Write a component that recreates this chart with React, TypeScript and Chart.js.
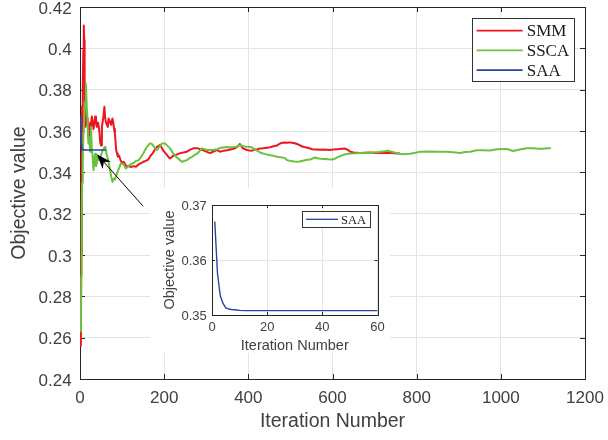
import React, { useEffect, useRef } from "react";
import { Chart, registerables } from "chart.js";

Chart.register(...registerables);

// ---------- data ----------
const smmIter = [2, 3, 4, 5, 6, 7, 8, 9, 10, 11, 12, 13, 15, 18, 20, 22, 24, 26, 28, 30, 32, 34, 36, 38, 40, 43, 46, 48, 50, 52, 55, 58, 60, 62, 66, 68, 70, 74, 77, 79, 81, 83, 86, 88, 90, 93, 96, 100, 103, 105, 108, 113, 117, 121, 127, 133, 139, 145, 150, 156, 162, 167, 173, 178, 183, 190, 194, 197, 202, 207, 211, 214, 220, 226, 232, 238, 246, 254, 262, 269, 280, 286, 292, 300, 309, 318, 326, 333, 340, 346, 352, 360, 368, 375, 380, 384, 387, 397, 403, 409, 415, 421, 428, 435, 444, 452, 460, 468, 474, 480, 486, 492, 498, 504, 510, 516, 523, 530, 538, 547, 552, 558, 565, 570, 578, 586, 594, 602, 611, 620, 630, 637, 642, 650, 665, 680, 689, 700, 713, 725, 740, 753, 758];
const smmValue = [0.256, 0.3, 0.345, 0.372, 0.352, 0.38, 0.4, 0.411, 0.404, 0.385, 0.37, 0.362, 0.368, 0.366, 0.357, 0.355, 0.364, 0.362, 0.367, 0.365, 0.361, 0.363, 0.367, 0.366, 0.362, 0.364, 0.36, 0.3545, 0.353, 0.362, 0.366, 0.3717, 0.366, 0.364, 0.362, 0.366, 0.365, 0.363, 0.366, 0.364, 0.361, 0.3588, 0.3508, 0.349, 0.3475, 0.348, 0.3462, 0.3443, 0.345, 0.3448, 0.3435, 0.3427, 0.3432, 0.3425, 0.343, 0.3427, 0.3438, 0.3445, 0.3451, 0.3455, 0.3462, 0.3478, 0.3493, 0.351, 0.3523, 0.3532, 0.352, 0.3508, 0.3495, 0.3483, 0.3472, 0.3467, 0.3478, 0.3483, 0.3488, 0.3493, 0.3496, 0.35, 0.351, 0.3516, 0.3516, 0.3512, 0.3508, 0.35, 0.3493, 0.3502, 0.3508, 0.35, 0.3504, 0.3506, 0.3508, 0.3512, 0.3516, 0.3525, 0.3537, 0.3525, 0.3516, 0.3508, 0.3506, 0.3505, 0.351, 0.3512, 0.3515, 0.3516, 0.3519, 0.3521, 0.3526, 0.353, 0.3538, 0.3543, 0.3544, 0.3543, 0.3545, 0.3543, 0.3541, 0.3537, 0.353, 0.3524, 0.352, 0.3515, 0.3512, 0.3511, 0.351, 0.3509, 0.351, 0.3509, 0.3508, 0.351, 0.3512, 0.3514, 0.3515, 0.3508, 0.35, 0.3496, 0.3494, 0.3495, 0.3496, 0.3494, 0.3494, 0.3495, 0.3493, 0.3491, 0.3492];

const sscaIter = [2, 3, 4, 5, 6, 7, 8, 10, 12, 14, 16, 18, 20, 22, 24, 26, 28, 30, 32, 34, 36, 38, 40, 43, 46, 48, 51, 54, 58, 60, 63, 66, 70, 74, 77, 80, 83, 87, 91, 97, 103, 109, 115, 121, 127, 133, 139, 145, 150, 155, 159, 166, 170, 173, 178, 183, 189, 195, 202, 208, 214, 221, 227, 233, 242, 248, 254, 260, 266, 273, 280, 285, 290, 296, 302, 316, 326, 333, 340, 350, 356, 364, 372, 380, 386, 392, 400, 409, 415, 421, 428, 435, 443, 452, 460, 468, 476, 486, 492, 498, 504, 510, 516, 522, 530, 540, 547, 552, 558, 565, 572, 580, 590, 597, 605, 611, 620, 630, 642, 655, 665, 680, 695, 710, 725, 732, 740, 753, 765, 784, 800, 808, 825, 850, 872, 886, 903, 915, 927, 943, 958, 974, 991, 1005, 1015, 1029, 1045, 1062, 1077, 1090, 1100, 1110, 1117];
const sscaValue = [0.263, 0.29, 0.318, 0.335, 0.35, 0.343, 0.358, 0.365, 0.374, 0.383, 0.372, 0.365, 0.354, 0.357, 0.35, 0.362, 0.352, 0.3475, 0.341, 0.346, 0.349, 0.343, 0.3443, 0.348, 0.346, 0.346, 0.349, 0.3508, 0.352, 0.3524, 0.349, 0.3467, 0.3427, 0.338, 0.3354, 0.337, 0.3365, 0.339, 0.3411, 0.3443, 0.344, 0.3419, 0.3428, 0.344, 0.3445, 0.3455, 0.3458, 0.3475, 0.349, 0.351, 0.3523, 0.354, 0.3538, 0.3532, 0.3518, 0.3508, 0.3525, 0.354, 0.354, 0.3528, 0.3516, 0.3493, 0.3478, 0.3467, 0.3451, 0.3455, 0.3459, 0.3468, 0.3475, 0.3485, 0.3493, 0.3505, 0.3516, 0.3512, 0.3508, 0.3508, 0.3512, 0.3518, 0.352, 0.3523, 0.352, 0.3522, 0.3524, 0.3532, 0.3528, 0.3525, 0.3524, 0.352, 0.3511, 0.3505, 0.3496, 0.3491, 0.3487, 0.3483, 0.348, 0.3475, 0.3473, 0.347, 0.3459, 0.3456, 0.3454, 0.3452, 0.3451, 0.3452, 0.3456, 0.3461, 0.3462, 0.3466, 0.3472, 0.3468, 0.3466, 0.3465, 0.3463, 0.3462, 0.3465, 0.3472, 0.348, 0.3487, 0.3491, 0.3492, 0.3494, 0.3495, 0.3496, 0.3498, 0.3502, 0.3504, 0.35, 0.3492, 0.3488, 0.349, 0.3496, 0.35, 0.3501, 0.35, 0.35, 0.3497, 0.3494, 0.3498, 0.35, 0.3507, 0.3507, 0.3506, 0.3512, 0.3513, 0.3513, 0.3503, 0.351, 0.3516, 0.3516, 0.3514, 0.3514, 0.3516, 0.3516];

const saaIter = [1, 2, 3, 4, 5, 6, 7, 8, 9, 10, 12, 15, 20, 25, 30, 35, 40, 45, 50, 55, 60];
const saaValue = [0.367, 0.3575, 0.3535, 0.3521, 0.3513, 0.3511, 0.351, 0.35095, 0.3509, 0.35085, 0.3508, 0.3508, 0.3508, 0.3508, 0.3508, 0.3508, 0.3508, 0.3508, 0.3508, 0.3508, 0.3508];

const seriesNames = ["SMM", "SSCA", "SAA"];
const seriesColors = ["#f0141e", "#6cc13f", "#2743a6"];

const mainXTicks = [0, 200, 400, 600, 800, 1000, 1200];
const mainYTicks = [0.24, 0.26, 0.28, 0.3, 0.32, 0.34, 0.36, 0.38, 0.4, 0.42];
const insetXTicks = [0, 20, 40, 60];
const insetYTicks = [0.35, 0.36, 0.37];

const xTitle = "Iteration Number";
const yTitle = "Objective value";

// arrow annotation (data coordinates): from tail to tip
const arrowTail = { x: 150, y: 0.3236 };
const arrowTip = { x: 40, y: 0.3488 };

// ---------- helpers ----------
const SANS = "'Liberation Sans', Arial, Helvetica, sans-serif";
const SERIF = "'Liberation Serif', 'Times New Roman', serif";
const TEXT = "#404040";
const AXIS = "#262626";
const GRID = "#e4e4e4";

const pts = (xs: number[], ys: number[]) => xs.map((x, i) => ({ x, y: ys[i] }));

const framePlugin = (tickLen: number) => ({
  id: "frame",
  beforeDatasetsDraw(chart: any) {
    const { ctx, chartArea: a, scales } = chart;
    ctx.save();
    ctx.strokeStyle = AXIS;
    ctx.lineWidth = 1;
    ctx.beginPath();
    scales.x.ticks.forEach((t: any) => {
      const px = Math.round(scales.x.getPixelForValue(t.value)) + 0.5;
      ctx.moveTo(px, a.bottom);
      ctx.lineTo(px, a.bottom - tickLen);
      ctx.moveTo(px, a.top);
      ctx.lineTo(px, a.top + tickLen);
    });
    scales.y.ticks.forEach((t: any) => {
      const py = Math.round(scales.y.getPixelForValue(t.value)) + 0.5;
      ctx.moveTo(a.left, py);
      ctx.lineTo(a.left + tickLen, py);
      ctx.moveTo(a.right, py);
      ctx.lineTo(a.right - tickLen, py);
    });
    ctx.stroke();
    ctx.strokeRect(
      Math.round(a.left) + 0.5,
      Math.round(a.top) + 0.5,
      Math.round(a.right - a.left),
      Math.round(a.bottom - a.top)
    );
    ctx.restore();
  },
});

const legendPlugin = (o: any) => ({
  id: "boxLegend",
  afterDraw(chart: any) {
    const { ctx, chartArea: a } = chart;
    const left = a.right - o.right - o.width;
    const top = a.top + o.top;
    ctx.save();
    ctx.fillStyle = "#ffffff";
    ctx.fillRect(left, top, o.width, o.height);
    ctx.strokeStyle = "#333333";
    ctx.lineWidth = 1;
    ctx.strokeRect(Math.round(left) + 0.5, Math.round(top) + 0.5, Math.round(o.width), Math.round(o.height));
    ctx.font = `${o.fontSize}px ${SERIF}`;
    ctx.textBaseline = "middle";
    ctx.textAlign = "left";
    chart.data.datasets.forEach((ds: any, i: number) => {
      const y = top + o.firstRow + i * o.rowH;
      ctx.strokeStyle = ds.borderColor;
      ctx.lineWidth = o.lineW;
      ctx.beginPath();
      ctx.moveTo(left + o.lineStart, y);
      ctx.lineTo(left + o.lineStart + o.lineLen, y);
      ctx.stroke();
      ctx.fillStyle = "#1a1a1a";
      ctx.fillText(ds.label, left + o.lineStart + o.lineLen + o.gap, y + 1);
    });
    ctx.restore();
  },
});

const arrowPlugin = {
  id: "arrow",
  afterDatasetsDraw(chart: any) {
    const { ctx, scales } = chart;
    const x0 = scales.x.getPixelForValue(arrowTail.x);
    const y0 = scales.y.getPixelForValue(arrowTail.y);
    const x1 = scales.x.getPixelForValue(arrowTip.x);
    const y1 = scales.y.getPixelForValue(arrowTip.y);
    const len = Math.hypot(x1 - x0, y1 - y0);
    const dx = (x1 - x0) / len;
    const dy = (y1 - y0) / len;
    const nx = -dy;
    const ny = dx;
    const L = 15;
    const W = 5.5;
    ctx.save();
    ctx.strokeStyle = "#000";
    ctx.lineWidth = 1;
    ctx.beginPath();
    ctx.moveTo(x0, y0);
    ctx.lineTo(x1 - dx * L * 0.6, y1 - dy * L * 0.6);
    ctx.stroke();
    ctx.fillStyle = "#000";
    ctx.beginPath();
    ctx.moveTo(x1, y1);
    ctx.lineTo(x1 - dx * L + nx * W, y1 - dy * L + ny * W);
    ctx.lineTo(x1 - dx * L * 0.7, y1 - dy * L * 0.7);
    ctx.lineTo(x1 - dx * L - nx * W, y1 - dy * L - ny * W);
    ctx.closePath();
    ctx.fill();
    ctx.restore();
  },
};

const whiteBg = {
  id: "whiteBg",
  beforeDraw(chart: any) {
    const { ctx, width, height } = chart;
    ctx.save();
    ctx.fillStyle = "#ffffff";
    ctx.fillRect(0, 0, width, height);
    ctx.restore();
  },
};

// ---------- component ----------
export default function App() {
  const mainRef = useRef<HTMLCanvasElement | null>(null);
  const insetRef = useRef<HTMLCanvasElement | null>(null);

  useEffect(() => {
    const main = new Chart(mainRef.current as HTMLCanvasElement, {
      type: "line",
      data: {
        datasets: [
          { label: seriesNames[0], data: pts(smmIter, smmValue), borderColor: seriesColors[0], borderWidth: 2, pointRadius: 0, order: 2 },
          { label: seriesNames[1], data: pts(sscaIter, sscaValue), borderColor: seriesColors[1], borderWidth: 2, pointRadius: 0, order: 1 },
          { label: seriesNames[2], data: pts(saaIter, saaValue), borderColor: seriesColors[2], borderWidth: 1.6, pointRadius: 0, order: 0 },
        ],
      },
      options: {
        responsive: false,
        animation: false,
        parsing: false as any,
        events: [],
        layout: { padding: { top: 7, right: 23, bottom: 0, left: 0 } },
        elements: { line: { tension: 0, borderJoinStyle: "round", borderCapStyle: "round" } },
        plugins: { legend: { display: false }, tooltip: { enabled: false } },
        scales: {
          x: {
            type: "linear",
            min: 0,
            max: 1200,
            afterBuildTicks: (s: any) => { s.ticks = mainXTicks.map((v) => ({ value: v })); },
            afterFit: (s: any) => { s.height = 61; s.paddingLeft = 0; s.paddingRight = 0; },
            grid: { color: GRID, drawTicks: false, tickLength: 0 },
            border: { display: false },
            ticks: { font: { family: SANS, size: 17 }, color: TEXT, padding: 9, maxRotation: 0, autoSkip: false, callback: (v: any) => String(v) },
            title: { display: true, text: xTitle, font: { family: SANS, size: 19.5 }, color: TEXT, padding: { top: 0, bottom: 6.6 } },
          },
          y: {
            type: "linear",
            min: 0.24,
            max: 0.42,
            afterBuildTicks: (s: any) => { s.ticks = mainYTicks.map((v) => ({ value: v })); },
            afterFit: (s: any) => { s.width = 80; s.paddingTop = 0; s.paddingBottom = 0; },
            grid: { color: GRID, drawTicks: false, tickLength: 0 },
            border: { display: false },
            ticks: { font: { family: SANS, size: 17 }, color: TEXT, padding: 8.3, labelOffset: 2, autoSkip: false, callback: (v: any) => String(v) },
            title: { display: true, text: yTitle, font: { family: SANS, size: 19.5 }, color: TEXT, padding: { top: 7.8, bottom: 0 } },
          },
        },
      } as any,
      plugins: [whiteBg, framePlugin(5), arrowPlugin, legendPlugin({ right: 11, top: 11, width: 102, height: 63, firstRow: 12.7, rowH: 19.7, lineStart: 4.7, lineLen: 46, gap: 4, fontSize: 17, lineW: 1.8 })],
    });

    const inset = new Chart(insetRef.current as HTMLCanvasElement, {
      type: "line",
      data: {
        datasets: [
          { label: seriesNames[2], data: pts(saaIter, saaValue), borderColor: seriesColors[2], borderWidth: 1.4, pointRadius: 0 },
        ],
      },
      options: {
        responsive: false,
        animation: false,
        parsing: false as any,
        events: [],
        layout: { padding: { top: 17, right: 12.5, bottom: 0, left: 0 } },
        elements: { line: { tension: 0, borderJoinStyle: "round" } },
        plugins: { legend: { display: false }, tooltip: { enabled: false } },
        scales: {
          x: {
            type: "linear",
            min: 0,
            max: 60,
            afterBuildTicks: (s: any) => { s.ticks = insetXTicks.map((v) => ({ value: v })); },
            afterFit: (s: any) => { s.height = 38; s.paddingLeft = 0; s.paddingRight = 0; },
            grid: { color: GRID, drawTicks: false, tickLength: 0 },
            border: { display: false },
            ticks: { font: { family: SANS, size: 13 }, color: TEXT, padding: 4.9, maxRotation: 0, autoSkip: false, callback: (v: any) => String(v) },
            title: { display: true, text: xTitle, font: { family: SANS, size: 14.5, lineHeight: 1 }, color: TEXT, padding: { top: 0, bottom: 0 } },
          },
          y: {
            type: "linear",
            min: 0.35,
            max: 0.37,
            afterBuildTicks: (s: any) => { s.ticks = insetYTicks.map((v) => ({ value: v })); },
            afterFit: (s: any) => { s.width = 62; s.paddingTop = 0; s.paddingBottom = 0; },
            grid: { color: GRID, drawTicks: false, tickLength: 0 },
            border: { display: false },
            ticks: { font: { family: SANS, size: 13 }, color: TEXT, padding: 5.3, labelOffset: 1, autoSkip: false, callback: (v: any) => String(v) },
            title: { display: true, text: yTitle, font: { family: SANS, size: 14.5, lineHeight: 1 }, color: TEXT, padding: { top: 12.75, bottom: 0 } },
          },
        },
      } as any,
      plugins: [whiteBg, framePlugin(3), legendPlugin({ right: 7.5, top: 6, width: 67.7, height: 16.3, firstRow: 8.3, rowH: 16, lineStart: 3.7, lineLen: 32, gap: 3, fontSize: 12.5, lineW: 1.3 })],
    });

    return () => {
      main.destroy();
      inset.destroy();
    };
  }, []);

  return (
    <div style={{ position: "absolute", left: 0, top: 0, width: 608, height: 440, background: "#fff" }}>
      <canvas ref={mainRef} width={608} height={440} style={{ position: "absolute", left: 0, top: 0, display: "block" }} />
      <canvas ref={insetRef} width={240} height={165} style={{ position: "absolute", left: 150, top: 188, display: "block" }} />
    </div>
  );
}
